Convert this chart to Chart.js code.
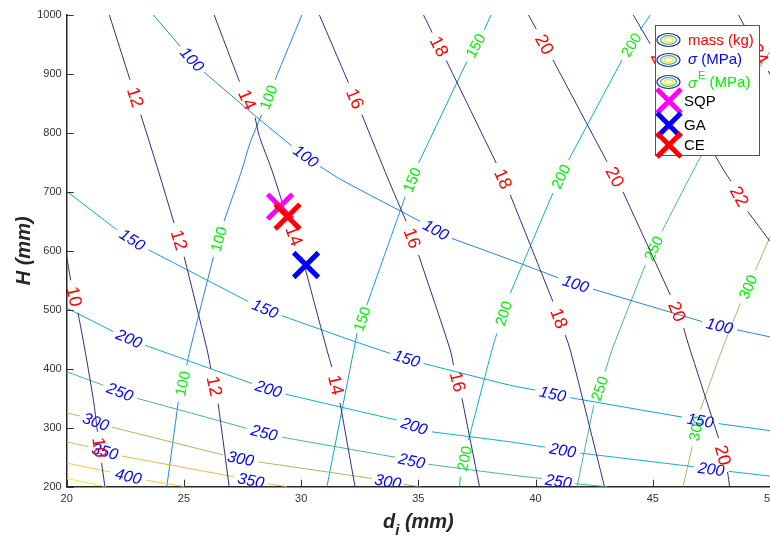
<!DOCTYPE html>
<html>
<head>
<meta charset="utf-8">
<script src="https://cdn.jsdelivr.net/npm/chart.js@4"></script>
<style>
  body { margin: 0; background: #fff; }
</style>
</head>
<body>
<canvas id="contourChart" width="770" height="539"></canvas>
<script>
// each contour is a list of pieces, split where the inline label sits
// points are [d_i (mm), H (mm)]
var massLevels = [10, 12, 14, 16, 18, 20, 22, 24];
var massLines = [
    [[[20.00, 590], [20.17, 550]], [[20.48, 495], [20.70, 449], [21.14, 347], [21.31, 293]], [[21.49, 240], [21.63, 200]]],
    [[[21.82, 1000], [22.70, 890]], [[23.16, 831], [23.90, 737], [24.58, 647]], [[25.01, 590], [25.99, 432], [26.15, 400]], [[26.46, 341], [26.93, 200]]],
    [[[26.29, 1000], [27.37, 887]], [[28.04, 826], [28.22, 794], [28.75, 737], [29.36, 661]], [[30.04, 590], [31.10, 432], [31.31, 403]], [[31.66, 342], [32.30, 200]]],
    [[[30.78, 1000], [32.02, 885]], [[32.59, 831], [33.73, 720], [34.48, 650]], [[35.01, 593], [36.36, 432], [36.50, 406]], [[36.86, 350], [37.61, 200]]],
    [[[35.22, 1000], [35.59, 970]], [[36.19, 923], [38.32, 749]], [[38.92, 695], [40.74, 514]], [[41.27, 457], [41.48, 432], [42.94, 200]]],
    [[[39.70, 1000], [40.03, 976]], [[40.74, 924], [43.05, 751]], [[43.73, 700], [45.75, 525]], [[46.32, 469], [46.46, 449], [47.81, 282]], [[48.19, 225], [48.28, 200]]],
    [[[44.17, 1000], [44.89, 951]], [[45.75, 890], [47.03, 805], [48.02, 737], [48.34, 718]], [[49.05, 667], [50, 616]]],
    [[[48.66, 1000], [49.16, 963]], [[49.93, 905], [50, 899]]]
];

var sigmaLevels = [100, 150, 200, 250, 300, 350, 400, 450];
var sigmaLines = [
    [[[23.70, 1000], [24.84, 947]], [[25.86, 903], [28.25, 822], [29.60, 778]], [[30.81, 743], [31.74, 720], [35.08, 650]], [[36.43, 621], [38.92, 585], [40.98, 554]], [[42.45, 535], [47.10, 480]], [[48.60, 466], [50, 454]]],
    [[[20, 701], [22.13, 636]], [[23.48, 602], [27.75, 514]], [[29.18, 490], [32.09, 449], [33.80, 426]], [[35.22, 409], [38.92, 372], [39.99, 364]], [[41.48, 351], [46.25, 318]], [[47.81, 307], [50, 295]]],
    [[[20, 503], [21.99, 463]], [[23.34, 440], [27.90, 375]], [[29.32, 357], [34.08, 313]], [[35.58, 293], [38.92, 276], [40.41, 267]], [[41.91, 257], [46.74, 234]], [[48.24, 226], [50, 218]]],
    [[[20, 395], [21.56, 372]], [[22.99, 350], [27.68, 299]], [[29.18, 284], [34.01, 250]], [[35.43, 238], [38.92, 220], [40.27, 214]], [[41.69, 205], [43.05, 200]]],
    [[[20, 325], [20.57, 320]], [[21.92, 301], [26.66, 254]], [[28.18, 242], [33.02, 214]], [[34.37, 204], [35.08, 200]]],
    [[[20, 276], [20.92, 268]], [[22.35, 252], [27.11, 217]], [[28.60, 205], [29.39, 200]]],
    [[[20, 240], [21.85, 225]], [[23.41, 211], [25.05, 200]]],
    [[[20, 214], [21.68, 200]]]
];

var sigmaELevels = [100, 150, 200, 250, 300];
var sigmaELines = [
    [[[30.03, 1000], [28.89, 890]], [[28.32, 831], [27.82, 783], [27.47, 737], [26.71, 650]], [[26.26, 590], [25.26, 432], [25.12, 406]], [[24.76, 344], [24.27, 200]]],
    [[[38.10, 1000], [37.81, 975]], [[37.07, 921], [35.01, 749]], [[34.44, 692], [32.80, 508]], [[32.39, 461], [31.10, 200]]],
    [[[44.89, 1000], [44.47, 975]], [[43.69, 924], [41.41, 754]], [[40.74, 698], [38.92, 528]], [[38.35, 460], [38.14, 432], [37.14, 279]], [[36.79, 217], [36.76, 200]]],
    [[[50, 938], [47.10, 763], [46.74, 737], [45.39, 633]], [[44.68, 576], [43.26, 432], [42.97, 395]], [[42.48, 338], [41.77, 200]]],
    [[[50, 624], [49.38, 567]], [[48.74, 511], [47.95, 432], [47.03, 330]], [[46.68, 268], [46.29, 200]]]
];

// optimum designs
var sqpPoint = [29.10, 675];
var gaPoint = [30.21, 576];
var cePoint = [29.42, 658];

var xRange = [20, 50];
var yRange = [200, 1000];

// styles
var massColor = '#352a87';
var levelColor = {
    100: '#1e87de', 150: '#12a0d6', 200: '#0fb1c0', 250: '#42bc8c',
    300: '#a2bd60', 350: '#e3b846', 400: '#f8cb36', 450: '#f2f01c'
};
var fontFamily = '"Liberation Sans", Arial, Helvetica, sans-serif';
var labelStyle = {
    mass: { color: '#ff0000', font: '18px ' + fontFamily },
    sigma: { color: '#0000ff', font: 'italic 16px ' + fontFamily },
    sigmaE: { color: '#00f000', font: '15px ' + fontFamily }
};

function toPoints(pieces) {
    var pts = [];
    pieces.forEach(function (piece, i) {
        if (i > 0) pts.push({ x: null, y: null });
        piece.forEach(function (p) { pts.push({ x: p[0], y: p[1] }); });
    });
    return pts;
}

function contourSet(pieces, level, family, color) {
    return {
        data: toPoints(pieces),
        contourPieces: pieces,
        level: level,
        family: family,
        showLine: true,
        borderColor: color,
        borderWidth: 1,
        pointRadius: 0,
        tension: 0.3,
        order: 1
    };
}

function markerSet(p, color, order) {
    return {
        data: [{ x: p[0], y: p[1] }],
        showLine: false,
        pointStyle: 'crossRot',
        pointRadius: 17.5,
        pointBorderWidth: 5,
        pointBorderColor: color,
        pointBackgroundColor: color,
        order: order
    };
}

var datasets = [];
massLines.forEach(function (l, i) { datasets.push(contourSet(l, massLevels[i], 'mass', massColor)); });
sigmaLines.forEach(function (l, i) { datasets.push(contourSet(l, sigmaLevels[i], 'sigma', levelColor[sigmaLevels[i]])); });
sigmaELines.forEach(function (l, i) { datasets.push(contourSet(l, sigmaELevels[i], 'sigmaE', levelColor[sigmaELevels[i]])); });
datasets.push(markerSet(cePoint, '#ff0000', -3));
datasets.push(markerSet(gaPoint, '#0000ff', -2));
datasets.push(markerSet(sqpPoint, '#ff00ff', -1));

// inline contour labels, drawn in the gaps between pieces
var contourLabels = {
    id: 'contourLabels',
    afterDatasetDraw: function (chart, args) {
        var ds = chart.data.datasets[args.index];
        if (!ds.contourPieces) return;
        var ctx = chart.ctx, xs = chart.scales.x, ys = chart.scales.y, a = chart.chartArea;
        var st = labelStyle[ds.family];
        ctx.save();
        ctx.beginPath();
        ctx.rect(a.left, a.top, a.right - a.left, a.bottom - a.top);
        ctx.clip();
        ctx.fillStyle = st.color;
        ctx.font = st.font;
        ctx.textAlign = 'center';
        ctx.textBaseline = 'middle';
        var pc = ds.contourPieces;
        for (var i = 1; i < pc.length; i++) {
            var p = pc[i - 1][pc[i - 1].length - 1], q = pc[i][0];
            var x0 = xs.getPixelForValue(p[0]), y0 = ys.getPixelForValue(p[1]);
            var x1 = xs.getPixelForValue(q[0]), y1 = ys.getPixelForValue(q[1]);
            var ang = Math.atan2(y1 - y0, x1 - x0);
            if (ang > Math.PI / 2) ang -= Math.PI;
            if (ang <= -Math.PI / 2) ang += Math.PI;
            ctx.save();
            ctx.translate((x0 + x1) / 2, (y0 + y1) / 2);
            ctx.rotate(ang);
            ctx.fillText(String(ds.level), 0, 1);
            ctx.restore();
        }
        ctx.restore();
    }
};

function drawContourIcon(ctx, cx, cy) {
    var rings = [[11.5, 6.5, massColor], [8, 4.3, '#2fb5a5'], [4.5, 2.4, '#f9e51a']];
    ctx.lineWidth = 1.2;
    rings.forEach(function (r) {
        ctx.strokeStyle = r[2];
        ctx.beginPath();
        ctx.ellipse(cx, cy, r[0], r[1], 0, 0, Math.PI * 2);
        ctx.stroke();
    });
}

function drawCross(ctx, cx, cy, color) {
    ctx.strokeStyle = color;
    ctx.lineWidth = 5;
    ctx.beginPath();
    ctx.moveTo(cx - 12, cy - 12); ctx.lineTo(cx + 12, cy + 12);
    ctx.moveTo(cx + 12, cy - 12); ctx.lineTo(cx - 12, cy + 12);
    ctx.stroke();
}

// axis ticks (inward), axis titles and the legend box
var decorations = {
    id: 'decorations',
    afterDraw: function (chart) {
        var ctx = chart.ctx, a = chart.chartArea, xs = chart.scales.x, ys = chart.scales.y;
        ctx.save();
        ctx.strokeStyle = '#333';
        ctx.lineWidth = 1;
        xs.ticks.forEach(function (t) {
            var x = Math.round(xs.getPixelForValue(t.value)) + 0.5;
            ctx.beginPath(); ctx.moveTo(x, a.bottom); ctx.lineTo(x, a.bottom - 7); ctx.stroke();
        });
        ys.ticks.forEach(function (t) {
            var y = Math.round(ys.getPixelForValue(t.value)) + 0.5;
            ctx.beginPath(); ctx.moveTo(a.left, y); ctx.lineTo(a.left + 7, y); ctx.stroke();
        });

        // x title: d_i (mm)
        ctx.fillStyle = '#262626';
        ctx.textBaseline = 'alphabetic';
        ctx.textAlign = 'left';
        var big = 'bold italic 20px ' + fontFamily, sub = 'bold italic 15px ' + fontFamily;
        ctx.font = big; var wd = ctx.measureText('d').width;
        ctx.font = sub; var wi = ctx.measureText('i').width;
        ctx.font = big; var wr = ctx.measureText(' (mm)').width;
        var x0 = (a.left + a.right) / 2 - (wd + wi + wr) / 2, yb = 528;
        ctx.fillText('d', x0, yb);
        ctx.font = sub; ctx.fillText('i', x0 + wd, yb + 7);
        ctx.font = big; ctx.fillText(' (mm)', x0 + wd + wi, yb);

        // y title: H (mm)
        ctx.save();
        ctx.translate(24, (a.top + a.bottom) / 2);
        ctx.rotate(-Math.PI / 2);
        ctx.textAlign = 'center';
        ctx.textBaseline = 'middle';
        ctx.fillText('H (mm)', 0, 0);
        ctx.restore();

        // legend
        var lx = a.right - 115, ly = a.top + 10, lw = 104, lh = 130;
        ctx.fillStyle = '#fff';
        ctx.fillRect(lx, ly, lw, lh);
        ctx.strokeStyle = '#555';
        ctx.lineWidth = 1;
        ctx.strokeRect(lx + 0.5, ly + 0.5, lw, lh);

        var txt = '15px ' + fontFamily, itx = 'italic 15px ' + fontFamily;
        ctx.textBaseline = 'middle';
        ctx.textAlign = 'left';
        var tx = lx + 33;

        drawContourIcon(ctx, lx + 13.5, ly + 15);
        ctx.font = txt; ctx.fillStyle = '#ff0000';
        ctx.fillText('mass (kg)', tx, ly + 16);

        drawContourIcon(ctx, lx + 13.5, ly + 35);
        ctx.fillStyle = '#0000ff';
        ctx.font = itx; ctx.fillText('\u03c3', tx, ly + 35);
        var ws = ctx.measureText('\u03c3').width;
        ctx.font = txt; ctx.fillText(' (MPa)', tx + ws, ly + 35);

        drawContourIcon(ctx, lx + 13.5, ly + 57);
        ctx.fillStyle = '#00f000';
        ctx.font = itx; ctx.fillText('\u03c3', tx, ly + 59);
        ctx.font = '11px ' + fontFamily; ctx.fillText('E', tx + ws + 1, ly + 51);
        var we = ctx.measureText('E').width;
        ctx.font = txt; ctx.fillText(' (MPa)', tx + ws + we + 1, ly + 58);

        var marks = [['SQP', '#ff00ff', 76], ['GA', '#0000ff', 100], ['CE', '#ff0000', 120]];
        marks.forEach(function (m) {
            drawCross(ctx, lx + 14, ly + m[2], m[1]);
            ctx.fillStyle = '#000';
            ctx.font = txt;
            ctx.fillText(m[0], lx + 29, ly + m[2] + 1);
        });
        ctx.restore();
    }
};

var ctxContour = document.getElementById('contourChart').getContext('2d');
var contourChart = new Chart(ctxContour, {
    type: 'scatter',
    data: { datasets: datasets },
    options: {
        responsive: false,
        animation: false,
        events: [],
        layout: { autoPadding: false, padding: { top: 15, right: 0, left: 0, bottom: 0 } },
        plugins: { legend: { display: false }, tooltip: { enabled: false } },
        scales: {
            x: {
                type: 'linear',
                min: xRange[0],
                max: xRange[1],
                ticks: {
                    stepSize: 5, color: '#333', padding: 6, font: { family: fontFamily, size: 11 },
                    callback: function (v) { return String(v); }
                },
                grid: { drawOnChartArea: false, drawTicks: false },
                border: { display: true, color: '#262626', width: 1.5 },
                afterFit: function (s) { s.height = 52.3; s.paddingLeft = 0; s.paddingRight = 0; }
            },
            y: {
                type: 'linear',
                min: yRange[0],
                max: yRange[1],
                ticks: {
                    stepSize: 100, color: '#333', padding: 5, font: { family: fontFamily, size: 11 },
                    callback: function (v) { return String(v); }
                },
                grid: { drawOnChartArea: false, drawTicks: false },
                border: { display: true, color: '#262626', width: 1.5 },
                afterFit: function (s) { s.width = 66.7; s.paddingTop = 0; s.paddingBottom = 0; }
            }
        }
    },
    plugins: [contourLabels, decorations]
});
</script>
</body>
</html>
